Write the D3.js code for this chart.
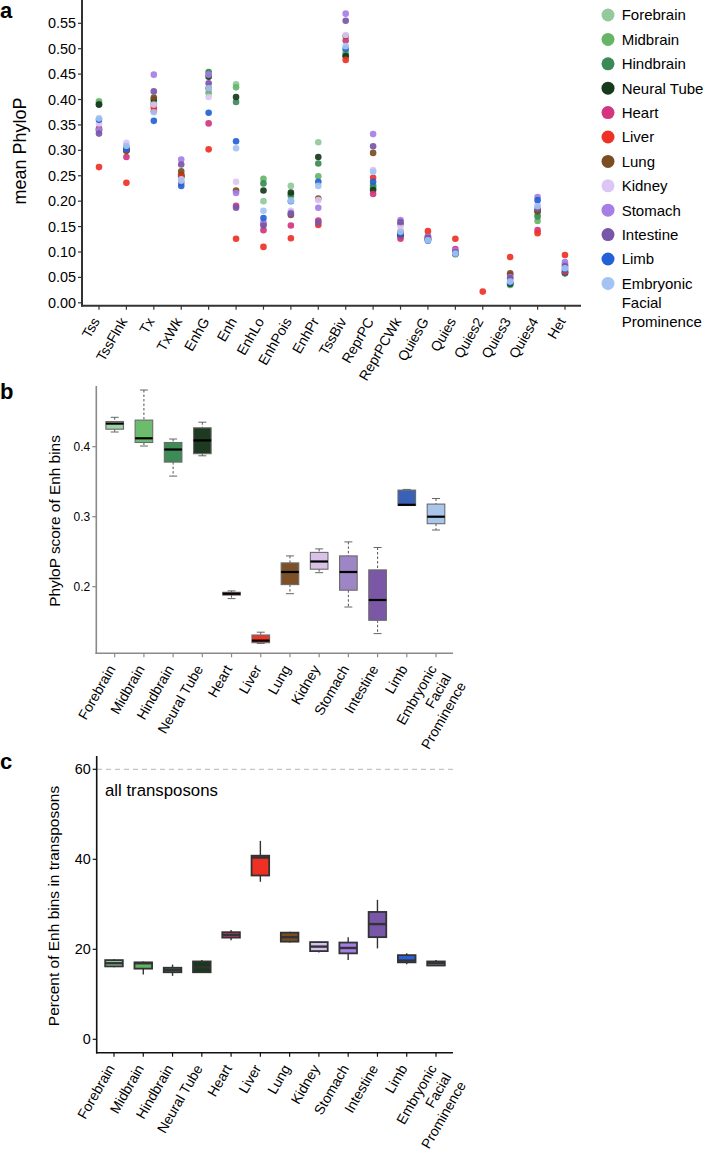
<!DOCTYPE html>
<html><head><meta charset="utf-8">
<script src="https://cdn.jsdelivr.net/npm/d3@7"></script>
<style>
body{margin:0;background:#fff}
svg{display:block}
text{font-family:"Liberation Sans",Arial,Helvetica,sans-serif;fill:#000}
</style>
</head><body>
<svg id="chart" width="705" height="1149"></svg>
<script>
// ---------- DATA ----------
const states = ["Tss","TssFlnk","Tx","TxWk","EnhG","Enh","EnhLo","EnhPois","EnhPr","TssBiv","ReprPC","ReprPCWk","QuiesG","Quies","Quies2","Quies3","Quies4","Het"];
const tissues = ["Forebrain","Midbrain","Hindbrain","Neural Tube","Heart","Liver","Lung","Kidney","Stomach","Intestine","Limb","Embryonic\nFacial\nProminence"];
const tissueColors = ["#93c99c","#66b566","#3b8a57","#173a1c","#d4357f","#ee3124","#7a4e22","#dcc6f5","#a57ee6","#7856a8","#2362d6","#a3c3f2"];
const boxColorsB = ["#9fd1a6","#6bbd6c","#3d8c57","#1e3a21","#c9357b","#e8382b","#7c5127","#d8c3e6","#9d85c6","#7a58a5","#3b61b6","#a9c5ea"];
const boxColorsC = ["#8fc79a","#63b563","#3b8a57","#173a1c","#d4357f","#ee3124","#7a4e22","#d8c0f2","#a57ee6","#7856a8","#2a60d6","#8aa8d2"];

// panel a: mean PhyloP per chromatin state, one array per tissue
const forebrainA = [0.397,0.300,0.395,0.250,0.452,0.430,0.200,0.230,0.316,0.496,0.225,0.132,0.124,0.095,null,0.036,0.175,0.062];
const midbrainA  = [0.395,0.300,0.392,0.252,0.413,0.424,0.244,0.210,0.249,0.491,0.227,0.130,0.124,0.096,null,0.035,0.161,0.058];
const hindbrainA = [0.390,0.301,0.389,0.250,0.454,0.395,0.235,0.213,0.274,0.487,0.231,0.134,0.125,0.097,null,0.037,0.170,0.058];
const neuralA    = [0.390,0.300,0.400,0.248,0.445,0.405,0.221,0.217,0.287,0.485,0.222,0.133,0.125,0.097,null,0.038,0.181,0.060];
const heartA     = [0.343,0.287,0.377,0.236,0.353,0.191,0.143,0.152,0.162,0.516,0.214,0.126,0.131,0.106,null,0.055,0.143,0.061];
const liverA     = [0.267,0.236,0.384,0.252,0.302,0.126,0.110,0.127,0.153,0.478,0.246,0.139,0.141,0.126,0.022,0.090,0.137,0.094];
const lungA      = [0.340,0.299,0.404,0.259,0.422,0.221,0.155,0.173,0.205,0.525,0.295,0.155,0.127,0.098,null,0.058,0.180,0.075];
const kidneyA    = [0.353,0.315,0.390,0.243,0.405,0.238,0.160,0.181,0.202,0.527,0.261,0.149,0.124,0.099,null,0.044,0.193,0.069];
const stomachA   = [0.340,0.307,0.449,0.282,0.449,0.216,0.157,0.177,0.187,0.569,0.332,0.163,0.130,0.103,null,0.050,0.208,0.080];
const intestineA = [0.333,0.302,0.416,0.272,0.432,0.187,0.152,0.175,0.158,0.555,0.308,0.159,0.128,0.100,null,0.048,0.185,0.072];
const limbA      = [0.360,0.303,0.358,0.230,0.374,0.318,0.167,0.200,0.238,0.500,0.238,0.135,0.122,0.097,null,0.040,0.202,0.066];
const efpA       = [0.363,0.309,0.375,0.240,0.422,0.304,0.181,0.201,0.230,0.505,0.258,0.140,0.123,0.097,null,0.042,0.190,0.068];
const panelASeries = [forebrainA,midbrainA,hindbrainA,neuralA,heartA,liverA,lungA,kidneyA,stomachA,intestineA,limbA,efpA];
const yTicksA = [0,0.05,0.10,0.15,0.20,0.25,0.30,0.35,0.40,0.45,0.50,0.55];

// panel b: PhyloP of Enh bins (box stats)
const bHigh = [0.442,0.481,0.411,0.435,0.194,0.135,0.244,0.254,0.264,0.256,0.339,0.326];
const bQ3   = [0.436,0.438,0.406,0.427,0.192,0.131,0.234,0.249,0.244,0.224,0.338,0.318];
const bMed  = [0.433,0.412,0.396,0.409,0.190,0.123,0.221,0.236,0.221,0.181,0.317,0.300];
const bQ1   = [0.425,0.406,0.378,0.390,0.188,0.120,0.203,0.225,0.195,0.152,0.316,0.290];
const bLow  = [0.421,0.401,0.358,0.387,0.183,0.119,0.190,0.220,0.171,0.133,0.316,0.281];
const yTicksB = [0.2,0.3,0.4];

// panel c: percent of Enh bins in transposons (box stats)
const cHigh = [17.8,17.3,16.6,17.6,24.3,44.1,23.9,21.7,22.7,31.0,19.1,17.6];
const cQ3   = [17.6,17.1,15.9,17.3,23.8,40.8,23.7,21.6,21.5,28.3,18.7,17.3];
const cMed  = [16.9,16.9,15.4,16.0,23.2,40.4,22.7,20.6,20.3,25.6,17.5,16.9];
const cQ1   = [16.2,15.7,14.9,14.9,22.6,36.4,21.7,19.6,19.1,22.7,17.1,16.4];
const cLow  = [16.0,14.4,14.1,14.9,22.0,35.0,21.5,19.3,17.6,20.2,16.7,16.4];
const yTicksC = [0,20,40,60];
const allTransposons = 60;

// ---------- DRAW ----------
const svg = d3.select("#chart");

function rotLabels(g, x, cats, axisY, fs, dx, dy){
  cats.forEach(c=>{
    const t = g.append("text")
      .attr("transform",`translate(${x(c)+dx},${axisY+dy}) rotate(-60)`)
      .attr("text-anchor","end").style("font-size",fs+"px");
    c.split("\n").forEach((l,i)=>t.append("tspan").attr("x",0).attr("dy",i===0?"0.35em":"1.2em").text(l));
  });
}

function yAxis(g, y, ticks, xPos, fmt, fs, color, width, top, bottom){
  g.append("line").attr("x1",xPos).attr("x2",xPos).attr("y1",top).attr("y2",bottom)
    .attr("stroke",color).attr("stroke-width",width);
  ticks.forEach(t=>{
    g.append("line").attr("x1",xPos-4).attr("x2",xPos).attr("y1",y(t)).attr("y2",y(t))
      .attr("stroke",color).attr("stroke-width",1.2);
    g.append("text").attr("x",xPos-6).attr("y",y(t)).attr("dy","0.35em")
      .attr("text-anchor","end").style("font-size",fs+"px").text(fmt(t));
  });
}
function xAxis(g, x, cats, yPos, color, width, left, right){
  g.append("line").attr("x1",left).attr("x2",right).attr("y1",yPos).attr("y2",yPos)
    .attr("stroke",color).attr("stroke-width",width);
  cats.forEach(c=>{
    g.append("line").attr("x1",x(c)).attr("x2",x(c)).attr("y1",yPos).attr("y2",yPos+4)
      .attr("stroke",color).attr("stroke-width",1.2);
  });
}

// ===== Panel a =====
const gA = svg.append("g");
const xA = d3.scalePoint().domain(states).range([99,565]);
const yA = d3.scaleLinear().domain([0,0.55]).range([302.8,23.3]);
gA.append("text").attr("x",0).attr("y",18).style("font-size","22px").style("font-weight","bold").text("a");
yAxis(gA, yA, yTicksA, 82, d3.format(".2f"), 14.4, "#333", 2, 0, 306.5);
xAxis(gA, xA, states, 305.7, "#333", 2, 81, 581);
rotLabels(gA, xA, states, 305.7, 14, -3, 13);
gA.append("text").attr("transform","translate(26,151) rotate(-90)").attr("text-anchor","middle")
  .style("font-size","18px").text("mean PhyloP");
panelASeries.forEach((arr,ti)=>{
  gA.selectAll(null).data(arr.map((v,i)=>({v,s:states[i]})).filter(d=>d.v!==null)).enter()
    .append("circle").attr("cx",d=>xA(d.s)).attr("cy",d=>yA(d.v)).attr("r",3.3)
    .attr("fill",tissueColors[ti]).attr("fill-opacity",0.92);
});
// legend
const leg = svg.append("g");
tissues.forEach((t,i)=>{
  const cy = 15 + i*24.4;
  leg.append("circle").attr("cx",608).attr("cy",cy).attr("r",6.5).attr("fill",tissueColors[i]);
  const tx = leg.append("text").attr("x",621.7).attr("y",cy).style("font-size","15px");
  t.split("\n").forEach((l,j)=>tx.append("tspan").attr("x",621.7).attr("dy",j===0?"0.36em":"19px").text(l));
});

// ===== Panel b =====
const gB = svg.append("g");
const xB = d3.scalePoint().domain(tissues).range([114.7,436]);
const yB = d3.scaleLinear().domain([0.2,0.4]).range([586.7,446.7]);
gB.append("text").attr("x",0).attr("y",399).style("font-size","22px").style("font-weight","bold").text("b");
yAxis(gB, yB, yTicksB, 96.3, d3.format(".1f"), 12, "#8a8a8a", 1.6, 386, 654);
xAxis(gB, xB, tissues, 653.3, "#8a8a8a", 1.6, 95.5, 453);
rotLabels(gB, xB, tissues, 653.3, 14, -3, 13);
gB.append("text").attr("transform","translate(60,521) rotate(-90)").attr("text-anchor","middle")
  .style("font-size","15.4px").text("PhyloP score of Enh bins");
const bwB = 17.6;
tissues.forEach((t,i)=>{
  const cx = xB(t);
  gB.append("line").attr("x1",cx).attr("x2",cx).attr("y1",yB(bHigh[i])).attr("y2",yB(bQ3[i]))
    .attr("stroke","#555").attr("stroke-dasharray","2.5,2").attr("stroke-width",1);
  gB.append("line").attr("x1",cx).attr("x2",cx).attr("y1",yB(bQ1[i])).attr("y2",yB(bLow[i]))
    .attr("stroke","#555").attr("stroke-dasharray","2.5,2").attr("stroke-width",1);
  [bHigh[i],bLow[i]].forEach(v=>gB.append("line").attr("x1",cx-4).attr("x2",cx+4).attr("y1",yB(v)).attr("y2",yB(v))
    .attr("stroke","#666").attr("stroke-width",1));
  gB.append("rect").attr("x",cx-bwB/2).attr("width",bwB).attr("y",yB(bQ3[i]))
    .attr("height",Math.max(1,yB(bQ1[i])-yB(bQ3[i]))).attr("fill",boxColorsB[i])
    .attr("stroke","#6b6b6b").attr("stroke-width",1.1);
  gB.append("line").attr("x1",cx-bwB/2).attr("x2",cx+bwB/2).attr("y1",yB(bMed[i])).attr("y2",yB(bMed[i]))
    .attr("stroke","#000").attr("stroke-width",2.2);
});

// ===== Panel c =====
const gC = svg.append("g");
const xC = d3.scalePoint().domain(tissues).range([114,436]);
const yC = d3.scaleLinear().domain([0,60]).range([1039.3,769.3]);
gC.append("text").attr("x",0).attr("y",769).style("font-size","22px").style("font-weight","bold").text("c");
gC.append("line").attr("x1",97).attr("x2",453).attr("y1",yC(allTransposons)).attr("y2",yC(allTransposons))
  .attr("stroke","#c4c4c4").attr("stroke-width",1.3).attr("stroke-dasharray","5,4");
yAxis(gC, yC, yTicksC, 96.7, d3.format("d"), 14.4, "#111", 1.6, 756, 1053.5);
xAxis(gC, xC, tissues, 1052.7, "#111", 1.6, 96, 453);
rotLabels(gC, xC, tissues, 1052.7, 14, -3, 13);
gC.append("text").attr("transform","translate(59,906) rotate(-90)").attr("text-anchor","middle")
  .style("font-size","15.5px").text("Percent of Enh bins in transposons");
gC.append("text").attr("x",105).attr("y",795.5).style("font-size","16.8px").text("all transposons");
const bwC = 17.6;
tissues.forEach((t,i)=>{
  const cx = xC(t);
  gC.append("line").attr("x1",cx).attr("x2",cx).attr("y1",yC(cHigh[i])).attr("y2",yC(cLow[i]))
    .attr("stroke","#333").attr("stroke-width",1.4);
  gC.append("rect").attr("x",cx-bwC/2).attr("width",bwC).attr("y",yC(cQ3[i]))
    .attr("height",Math.max(1,yC(cQ1[i])-yC(cQ3[i]))).attr("fill",boxColorsC[i])
    .attr("stroke","#333").attr("stroke-width",1.8);
  gC.append("line").attr("x1",cx-bwC/2).attr("x2",cx+bwC/2).attr("y1",yC(cMed[i])).attr("y2",yC(cMed[i]))
    .attr("stroke","#333").attr("stroke-width",2.4);
});
</script>
</body></html>
